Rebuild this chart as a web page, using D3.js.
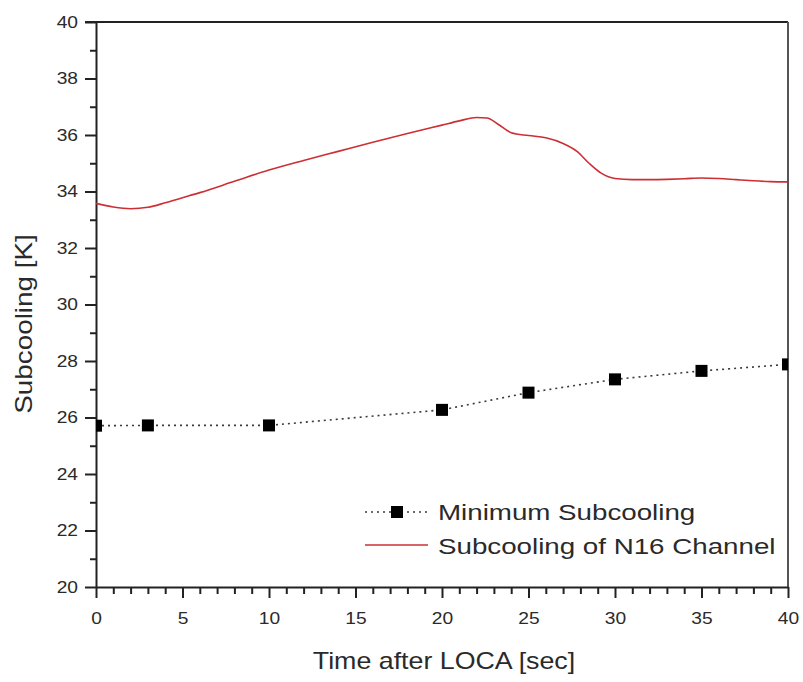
<!DOCTYPE html>
<html>
<head>
<meta charset="utf-8">
<script src="https://cdn.jsdelivr.net/npm/d3@7"></script>
<style>
  html, body { margin: 0; padding: 0; background: #fff; }
  svg { display: block; }
  text { font-family: "Liberation Sans", Arial, sans-serif; fill: #2a2a2a; }
</style>
</head>
<body>
<svg id="chart" width="803" height="682"></svg>
<script>
// Minimum subcooling (discrete calculation points)
const minTime  = [0, 3, 10, 20, 25, 30, 35, 40];
const minValue = [25.71, 25.72, 25.72, 26.27, 26.88, 27.35, 27.65, 27.88];

// Subcooling of N16 channel (continuous trace)
const n16Time  = [0, 1, 2, 3, 4, 5, 6, 8, 10, 12, 14, 16, 18, 20, 21, 22, 22.6, 23.2, 24, 25, 26, 27, 27.8, 28.5, 29.2, 30, 31, 32, 33, 34, 35, 36, 37, 38, 39, 40];
const n16Value = [33.58, 33.45, 33.39, 33.44, 33.6, 33.78, 33.96, 34.36, 34.76, 35.1, 35.42, 35.74, 36.05, 36.35, 36.5, 36.62, 36.6, 36.4, 36.08, 35.98, 35.9, 35.7, 35.42, 35.0, 34.65, 34.46, 34.42, 34.42, 34.43, 34.45, 34.48, 34.46, 34.42, 34.38, 34.35, 34.34];

const xMajorTicks = [0, 5, 10, 15, 20, 25, 30, 35, 40];
const yMajorTicks = [20, 22, 24, 26, 28, 30, 32, 34, 36, 38, 40];

const seriesNames = ["Minimum Subcooling", "Subcooling of N16 Channel"];

const svg = d3.select("#chart");
const plotLeft = 96, plotRight = 788, plotTop = 22, plotBottom = 587;

const x = d3.scaleLinear().domain([0, 40]).range([plotLeft, plotRight]);
const y = d3.scaleLinear().domain([20, 40]).range([plotBottom, plotTop]);

const axisColor = "#222";
const sxTick = 1.2;

// clip region for the plotted data
svg.append("defs").append("clipPath").attr("id", "plotClip")
  .append("rect").attr("x", plotLeft).attr("y", plotTop)
  .attr("width", plotRight - plotLeft).attr("height", plotBottom - plotTop);

// frame: top and right borders
svg.append("line").attr("x1", plotLeft - 11).attr("x2", plotRight).attr("y1", plotTop).attr("y2", plotTop)
  .attr("stroke", axisColor).attr("stroke-width", 2);
svg.append("line").attr("x1", plotRight).attr("x2", plotRight).attr("y1", plotTop).attr("y2", plotBottom)
  .attr("stroke", "#555").attr("stroke-width", 2);

// y axis: minor ticks
const yMinor = d3.range(21, 40, 2);
svg.append("g").attr("transform", `translate(${plotLeft},0)`)
  .call(d3.axisLeft(y).tickValues(yMinor).tickSize(6).tickFormat(""))
  .call(g => g.select(".domain").remove())
  .call(g => g.selectAll("line").attr("stroke", axisColor).attr("stroke-width", 2));

// y axis: major ticks and labels
svg.append("g").attr("transform", `translate(${plotLeft},0)`)
  .call(d3.axisLeft(y).tickValues(yMajorTicks).tickSize(11).tickPadding(7).tickSizeOuter(0).tickFormat(d3.format("d")))
  .call(g => g.select(".domain").attr("stroke", axisColor).attr("stroke-width", 2))
  .call(g => g.selectAll("line").attr("stroke", axisColor).attr("stroke-width", 2))
  .call(g => g.selectAll("text")
    .attr("font-size", 16).attr("font-family", "Liberation Sans, Arial, sans-serif")
    .attr("fill", "#333")
    .attr("x", -18 / sxTick)
    .attr("transform", `scale(${sxTick},1)`));

// x axis: minor ticks
const xMinor = d3.range(1, 40).filter(v => v % 5 !== 0);
svg.append("g").attr("transform", `translate(0,${plotBottom})`)
  .call(d3.axisBottom(x).tickValues(xMinor).tickSize(7).tickFormat(""))
  .call(g => g.select(".domain").remove())
  .call(g => g.selectAll("line").attr("stroke", axisColor).attr("stroke-width", 2));

// x axis: major ticks and labels
svg.append("g").attr("transform", `translate(0,${plotBottom})`)
  .call(d3.axisBottom(x).tickValues(xMajorTicks).tickSize(11).tickPadding(15).tickSizeOuter(0).tickFormat(d3.format("d")))
  .call(g => g.select(".domain").attr("stroke", axisColor).attr("stroke-width", 2))
  .call(g => g.selectAll("line").attr("stroke", axisColor).attr("stroke-width", 2))
  .call(g => g.selectAll("text")
    .attr("font-size", 16).attr("font-family", "Liberation Sans, Arial, sans-serif")
    .attr("fill", "#333")
    .attr("transform", `scale(${sxTick},1)`));

// axis titles
svg.append("text")
  .attr("transform", `translate(444,669) scale(1.165,1)`)
  .attr("text-anchor", "middle").attr("font-size", 23)
  .text("Time after LOCA [sec]");

svg.append("text")
  .attr("transform", `translate(32,324) rotate(-90) scale(1.16,1)`)
  .attr("text-anchor", "middle").attr("font-size", 24)
  .text("Subcooling [K]");

const plot = svg.append("g").attr("clip-path", "url(#plotClip)");

// N16 channel subcooling trace
const n16Data = n16Time.map((t, i) => [t, n16Value[i]]);
plot.append("path")
  .datum(n16Data)
  .attr("fill", "none").attr("stroke", "#cc2f33").attr("stroke-width", 1.6)
  .attr("d", d3.line().x(d => x(d[0])).y(d => y(d[1])).curve(d3.curveMonotoneX));

// minimum subcooling: dotted line with square markers
const minData = minTime.map((t, i) => [t, minValue[i]]);
plot.append("path")
  .datum(minData)
  .attr("fill", "none").attr("stroke", "#3a3a3a").attr("stroke-width", 1.6)
  .attr("stroke-dasharray", "2,4")
  .attr("d", d3.line().x(d => x(d[0])).y(d => y(d[1])));

const ms = 12;
plot.selectAll("rect.marker").data(minData).enter().append("rect")
  .attr("class", "marker")
  .attr("x", d => x(d[0]) - ms / 2).attr("y", d => y(d[1]) - ms / 2)
  .attr("width", ms).attr("height", ms).attr("fill", "#000");

// legend
const legend = svg.append("g");
legend.append("line").attr("x1", 365).attr("x2", 428).attr("y1", 512).attr("y2", 512)
  .attr("stroke", "#3a3a3a").attr("stroke-width", 1.6).attr("stroke-dasharray", "2,4");
legend.append("rect").attr("x", 397 - ms / 2).attr("y", 512 - ms / 2)
  .attr("width", ms).attr("height", ms).attr("fill", "#000");
legend.append("line").attr("x1", 365).attr("x2", 428).attr("y1", 545).attr("y2", 545)
  .attr("stroke", "#cc2f33").attr("stroke-width", 1.6);

legend.append("text")
  .attr("transform", `translate(438,519.5) scale(1.29,1)`)
  .attr("font-size", 21.5).text(seriesNames[0]);
legend.append("text")
  .attr("transform", `translate(438,553.5) scale(1.29,1)`)
  .attr("font-size", 21.5).text(seriesNames[1]);
</script>
</body>
</html>
